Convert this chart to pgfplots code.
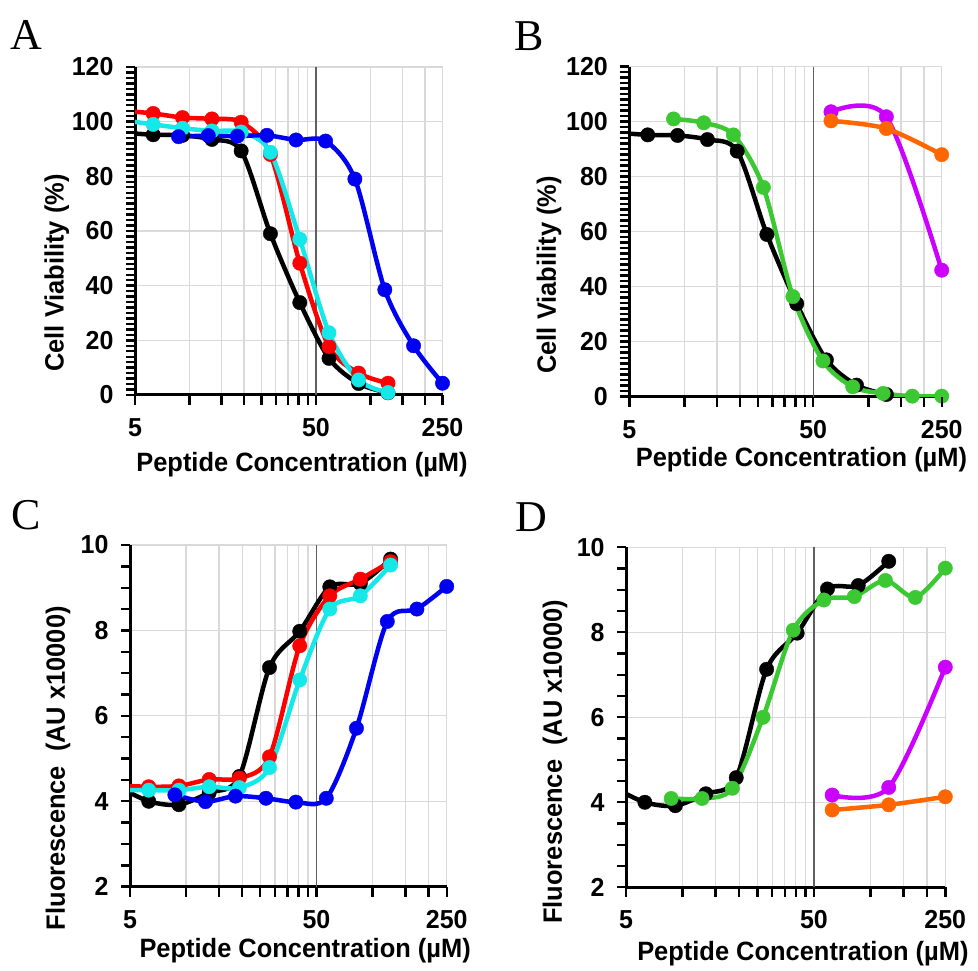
\documentclass[border=0pt]{standalone}
\usepackage{fontspec}
\setmainfont[FakeStretch=0.96]{Liberation Sans}
\newfontfamily\letterfont{Liberation Serif}
\usepackage{pgfplots}
\usepackage{pgfplotstable}
\usetikzlibrary{calc}
\pgfplotsset{compat=1.18}

\definecolor{cblack}{RGB}{0,0,0}
\definecolor{cred}{RGB}{255,0,0}
\definecolor{ccyan}{RGB}{20,232,232}
\definecolor{cblue}{RGB}{0,0,240}
\definecolor{cgreen}{RGB}{60,200,50}
\definecolor{cmag}{RGB}{204,0,255}
\definecolor{corange}{RGB}{255,102,0}
\definecolor{gridgray}{RGB}{217,217,217}

% ---------- Panel A / B : cell viability ----------
\pgfplotstableread{
x y
4.3 96
6.3 95.2
9.15 95
13.3 93.5
19.3 89.3
28 59
40.7 33.8
59 13.4
86 4.2
125 0.8
}\blackV
\pgfplotstableread{
x y
4.3 104
6.3 103
9.15 101.5
13.3 101
19.3 99.8
28 88
40.7 48.2
59 17.7
86 8.0
125 4.3
}\redV
\pgfplotstableread{
x y
4.3 100.5
6.3 99
9.15 97.6
13.3 96.6
19.3 96.2
28 88.8
40.7 57
59 22.8
86 5.5
125 0.9
}\cyanV
\pgfplotstableread{
x y
8.7 94.5
12.7 94.9
18.4 94.7
26.8 95
38.8 93.3
56.5 92.9
82 79
120 38.5
173 18
250 4.3
}\blueV
\pgfplotstableread{
x y
8.7 101
12.7 99.6
18.4 95.2
26.8 76.1
38.8 36.4
56.5 13
82 3.6
120 1.2
173 0.2
250 0.2
}\greenV
\pgfplotstableread{
x y
62.5 103.6
125 101.8
250 46
}\magV
\pgfplotstableread{
x y
62.5 100.3
125 97.5
250 88
}\orangeV

% ---------- Panel C / D : fluorescence ----------
\pgfplotstableread{
x y
4.3 4.35
6.3 4.0
9.15 3.92
13.3 4.2
19.3 4.58
28 7.13
40.7 7.98
59 9.02
86 9.1
125 9.67
}\blackF
\pgfplotstableread{
x y
4.3 4.37
6.3 4.34
9.15 4.36
13.3 4.51
19.3 4.54
28 5.04
40.7 7.64
59 8.81
86 9.2
125 9.61
}\redF
\pgfplotstableread{
x y
4.3 4.26
6.3 4.26
9.15 4.26
13.3 4.34
19.3 4.32
28 4.79
40.7 6.84
59 8.5
86 8.81
125 9.53
}\cyanF
\pgfplotstableread{
x y
8.7 4.15
12.7 3.99
18.4 4.12
26.8 4.07
38.8 3.98
56.5 4.07
82 5.71
120 8.21
173 8.5
250 9.03
}\blueF
\pgfplotstableread{
x y
8.7 4.09
12.7 4.09
18.4 4.33
26.8 6.0
38.8 8.05
56.5 8.76
82 8.84
120 9.22
173 8.82
250 9.51
}\greenF
\pgfplotstableread{
x y
62.5 4.17
125 4.35
250 7.18
}\magF
\pgfplotstableread{
x y
62.5 3.82
125 3.94
250 4.13
}\orangeF

\newcommand{\series}[3]{%
  \addplot[color=#2, line width=4.5pt, smooth, no markers] table {#1};
  \addplot[only marks, mark=*, mark size=7.2pt,
    mark options={fill=#2, draw=#2, line width=0.4pt},
    skip coords between index={0}{#3}] table {#1};
}

% tick marks (small filled bars) along the axis lines of axis #1, #2 = y intervals
\newcommand{\axisticks}[2]{%
  \foreach \t in {5,10,15,20,25,30,35,40,45,50,100,150,200,250}{%
    \pgfmathsetmacro{\f}{ln(\t/5)/ln(50)}%
    \fill[black] ($(#1.south west)!\f!(#1.south east)+(-1.2pt,0pt)$)
      rectangle ++(2.4pt,-10pt);}
  \foreach \k in {0,...,#2}{%
    \pgfmathsetmacro{\f}{\k/#2}%
    \fill[black] ($(#1.south west)!\f!(#1.north west)+(0pt,-1.2pt)$)
      rectangle ++(-9pt,2.4pt);}
}

\pgfplotsset{
  every axis/.append style={
    scale only axis,
    xmode=log, xmin=5, xmax=250,
    axis x line*=bottom, axis y line*=left,
    xtick align=outside, ytick align=outside,
    axis line style={-, line width=3pt, black},
    xtick={5,50,250}, xticklabels={5,50,250},
    minor xtick={10,15,20,25,30,35,40,45,100,150,200},
    xmajorgrids, xminorgrids, ymajorgrids,
    major grid style={gridgray, line width=1.3pt},
    minor grid style={gridgray, line width=1.3pt},
    major tick length=9pt, minor tick length=7pt,
    every tick/.append style={draw=black, line width=2pt},
    ticklabel style={font=\bfseries\fontsize{26}{26}\selectfont},
    yticklabel style={xshift=-9pt},
    xticklabel style={yshift=-11pt},
    label style={font=\bfseries\fontsize{26.5}{26.5}\selectfont},
    xlabel={Peptide Concentration (µM)},
  },
  /pgf/number format/assume math mode=true,
}

\begin{document}
\begin{tikzpicture}
\path[use as bounding box] (0,0) rectangle (978pt,971pt);

% Panel A
\begin{axis}[name=pA, at={(135pt,576pt)}, anchor=south west, width=307.5pt, height=328pt,
  ymin=0, ymax=120, ytick={0,20,...,120}, minor y tick num=9,
  ylabel={Cell Viability (\%)},
  xlabel style={at={(axis description cs:0.543,-0.232)}, anchor=base},
  ylabel style={at={(axis description cs:-0.254,0.372)}, anchor=center}]
  \draw[gray!75!black, line width=1.2pt] (axis cs:50,0) -- (axis cs:50,120);
  \series{\blackV}{cblack}{1}
  \series{\redV}{cred}{1}
  \series{\cyanV}{ccyan}{1}
  \series{\blueV}{cblue}{0}
\end{axis}

% Panel B
\begin{axis}[name=pB, at={(629.3pt,574.3pt)}, anchor=south west, width=312.4pt, height=330pt,
  ymin=0, ymax=120, ytick={0,20,...,120}, minor y tick num=9,
  ylabel={Cell Viability (\%)},
  xlabel style={at={(axis description cs:0.551,-0.213)}, anchor=base},
  ylabel style={at={(axis description cs:-0.257,0.369)}, anchor=center}]
  \draw[gray!75!black, line width=1.2pt] (axis cs:50,0) -- (axis cs:50,120);
  \series{\blackV}{cblack}{1}
  \series{\greenV}{cgreen}{0}
  \series{\magV}{cmag}{0}
  \series{\orangeV}{corange}{0}
\end{axis}

% Panel C
\begin{axis}[name=pC, at={(130pt,84.3pt)}, anchor=south west, width=316.7pt, height=341.7pt,
  ymin=2, ymax=10, ytick={2,4,...,10}, minor y tick num=3,
  ylabel={Fluorescence~~(AU x10000)},
  xlabel style={at={(axis description cs:0.553,-0.206)}, anchor=base},
  ylabel style={at={(axis description cs:-0.227,0.347)}, anchor=center}]
  \draw[gray!75!black, line width=1.2pt] (axis cs:50,2) -- (axis cs:50,10);
  \series{\blackF}{cblack}{1}
  \series{\redF}{cred}{1}
  \series{\cyanF}{ccyan}{1}
  \series{\blueF}{cblue}{0}
\end{axis}

% Panel D
\begin{axis}[name=pD, at={(626pt,83.7pt)}, anchor=south west, width=319.3pt, height=340pt,
  ymin=2, ymax=10, ytick={2,4,...,10}, minor y tick num=3,
  ylabel={Fluorescence~~(AU x10000)},
  xlabel style={at={(axis description cs:0.554,-0.214)}, anchor=base},
  ylabel style={at={(axis description cs:-0.222,0.369)}, anchor=center}]
  \draw[gray!75!black, line width=1.2pt] (axis cs:50,2) -- (axis cs:50,10);
  \series{\blackF}{cblack}{1}
  \series{\greenF}{cgreen}{0}
  \series{\magF}{cmag}{0}
  \series{\orangeF}{corange}{0}
\end{axis}

\axisticks{pA}{60}
\axisticks{pB}{60}
\axisticks{pC}{16}
\axisticks{pD}{16}

% panel letters
\node[anchor=base west, inner sep=0pt, font=\letterfont\fontsize{44}{44}\selectfont] at (10pt,921pt) {A};
\node[anchor=base west, inner sep=0pt, font=\letterfont\fontsize{44}{44}\selectfont] at (514pt,920pt) {B};
\node[anchor=base west, inner sep=0pt, font=\letterfont\fontsize{44}{44}\selectfont] at (11pt,441pt) {C};
\node[anchor=base west, inner sep=0pt, font=\letterfont\fontsize{44}{44}\selectfont] at (515pt,439pt) {D};
\end{tikzpicture}
\end{document}
